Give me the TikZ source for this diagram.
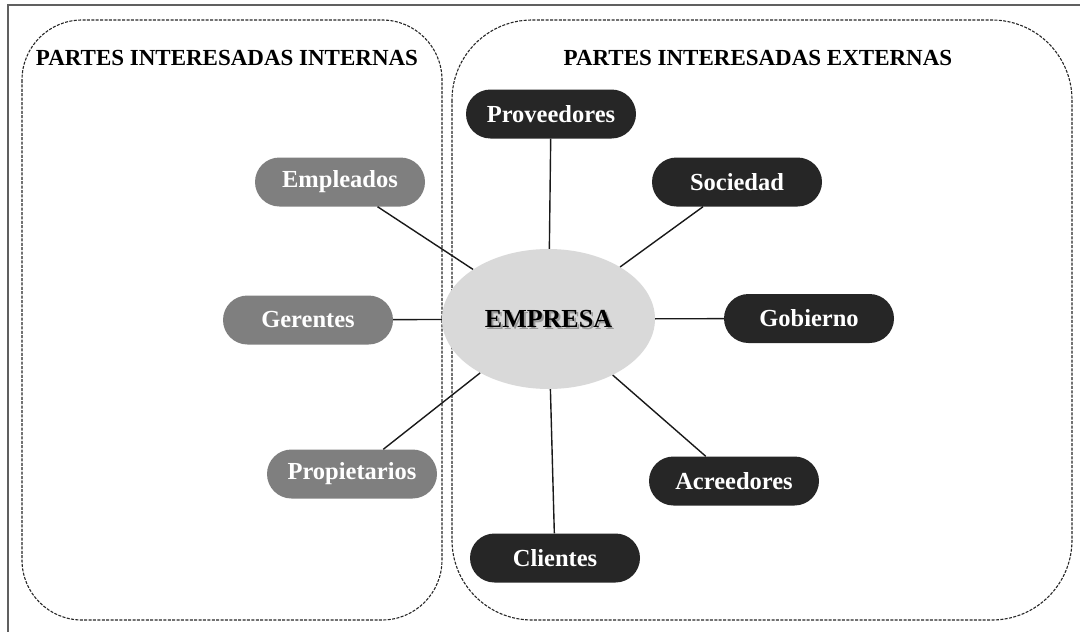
\documentclass[tikz,border=0pt]{standalone}
\usepackage{fontspec}
\setmainfont{Liberation Serif}
\usetikzlibrary{shapes.geometric}
\definecolor{pilldark}{HTML}{262626}
\definecolor{pillgrey}{HTML}{7F7F7F}
\definecolor{hub}{HTML}{D9D9D9}
\definecolor{frameline}{HTML}{606060}
\tikzset{
  pill/.style={rounded corners=24.5pt, minimum width=170pt, minimum height=49pt,
    inner sep=0pt, text=white, font=\fontsize{24.5}{26}\selectfont\bfseries},
  darkpill/.style={pill, fill=pilldark},
  greypill/.style={pill, fill=pillgrey},
  group/.style={draw=black!85, line width=1.1pt, dash pattern=on 3pt off 1.4pt},
  grouptitle/.style={font=\fontsize{23}{25}\selectfont\bfseries, inner sep=0pt},
  link/.style={draw=black!90, line width=1.4pt},
}
\begin{document}
\begin{tikzpicture}[x=1pt,y=-1pt]
\useasboundingbox (0,0) rectangle (1080,632);
% outer frame (only left and top visible)
\draw[frameline, line width=1.6pt] (8,640) -- (8,5) -- (1090,5);
% groups
\draw[group, rounded corners=60pt] (22,20) rectangle (442,620);
\draw[group, rounded corners=80pt] (452,20) rectangle (1072,620);
\node[grouptitle] (tint) at (227,58) {PARTES INTERESADAS INTERNAS};
\node[grouptitle] (text) at (758,58) {PARTES INTERESADAS EXTERNAS};
% hub
\node[ellipse, fill=hub, minimum width=213pt, minimum height=140pt, inner sep=0pt] (hub) at (548.5,319) {};
\node[font=\fontsize{26}{28}\selectfont\bfseries, text=black!40] (shadow) at (550.5,321) {EMPRESA};
\node[font=\fontsize{26}{28}\selectfont\bfseries] (hubtext) at (548.5,319) {EMPRESA};
% internal
\node[greypill] (emp) at (340,182) {Empleados};
\node[greypill] (ger) at (308,320) {Gerentes};
\node[greypill] (pro) at (352,474) {Propietarios};
% external
\node[darkpill] (prov) at (551,114) {Proveedores};
\node[darkpill] (soc) at (737,182) {Sociedad};
\node[darkpill] (gob) at (809,318.5) {Gobierno};
\node[darkpill] (acr) at (734,481) {Acreedores};
\node[darkpill] (cli) at (555,558) {Clientes};
% links
\foreach \n in {emp,ger,pro,prov,soc,gob,acr,cli}
  \draw[link] (\n) -- (hub);
\end{tikzpicture}
\end{document}
